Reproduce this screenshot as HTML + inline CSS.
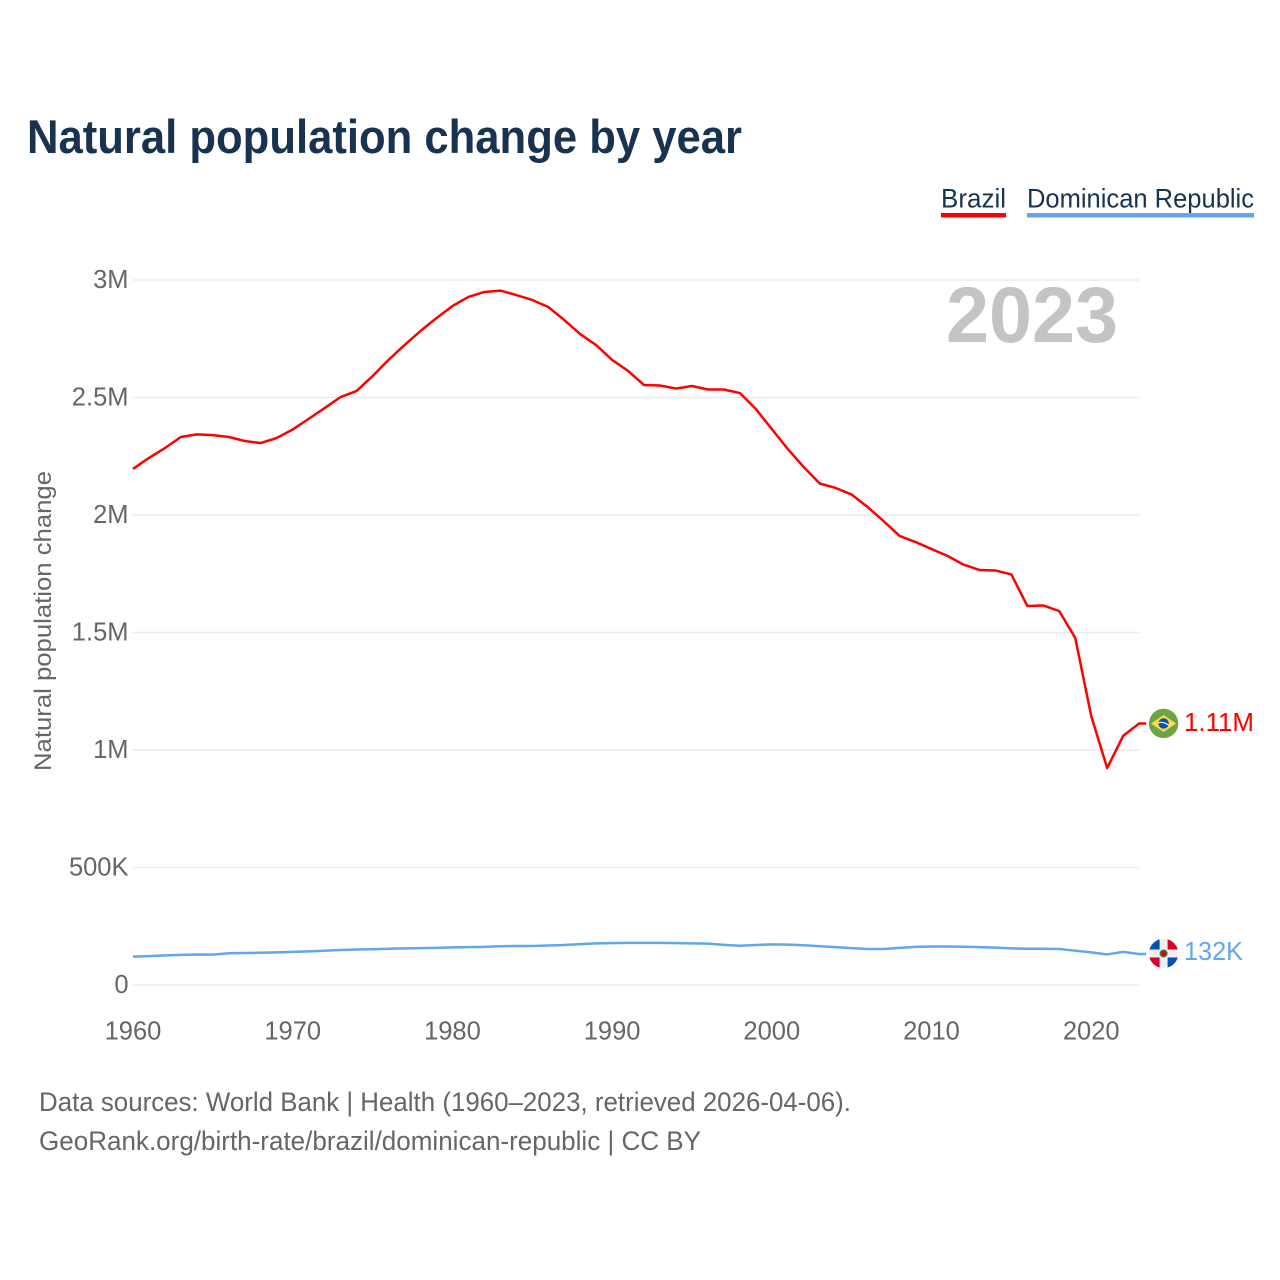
<!DOCTYPE html>
<html lang="en">
<head>
<meta charset="utf-8">
<title>Natural population change by year</title>
<style>
html,body{margin:0;padding:0;background:#fff;}
svg{display:block;font-family:"Liberation Sans",sans-serif;}
</style>
</head>
<body>
<svg id="chart" xmlns="http://www.w3.org/2000/svg" width="1280" height="1280" viewBox="0 0 1280 1280">
  <rect width="1280" height="1280" fill="#ffffff"/>
  <text x="27" y="153" font-size="47" font-weight="700" fill="#18324f" textLength="715" lengthAdjust="spacingAndGlyphs">Natural population change by year</text>

  <g>
    <text x="941" y="207.5" font-size="26.5" fill="#18324f" textLength="65" lengthAdjust="spacingAndGlyphs">Brazil</text>
    <rect x="941" y="213" width="65" height="4.5" fill="#ff0000"/>
  </g>
  <g>
    <text x="1027" y="207.5" font-size="26.5" fill="#18324f" textLength="227" lengthAdjust="spacingAndGlyphs">Dominican Republic</text>
    <rect x="1027" y="213" width="227" height="4.5" fill="#62a6ec"/>
  </g>

  <g id="grid"></g>
  <g id="yticks"></g>
  <g id="xticks"></g>

  <text transform="translate(51 621) rotate(-90)" text-anchor="middle" font-size="24.5" fill="#666666" textLength="300" lengthAdjust="spacingAndGlyphs">Natural population change</text>

  <text x="946" y="342" font-size="79" font-weight="700" fill="#c4c4c4" textLength="172" lengthAdjust="spacingAndGlyphs">2023</text>

  <g id="series"></g>

  <defs>
    <clipPath id="clip-br"><circle cx="0" cy="0" r="14.7"/></clipPath>
    <clipPath id="clip-do"><circle cx="0" cy="0" r="14.7"/></clipPath>
  </defs>
  <g id="flag-br">
    <circle r="17" fill="#ffffff"/>
    <g clip-path="url(#clip-br)">
      <rect x="-15" y="-15" width="30" height="30" fill="#6da544"/>
      <polygon points="-12.5,0 0,-8.5 12.5,0 0,8.5" fill="#ffda44"/>
      <circle r="5.2" fill="#0052b4"/>
      <path d="M-5,-0.8 Q0,-2 5,1.6" stroke="#f0f0f0" stroke-width="1.3" fill="none"/>
    </g>
  </g>
  <g id="flag-do">
    <circle r="17" fill="#ffffff"/>
    <g clip-path="url(#clip-do)">
      <rect x="-15" y="-15" width="30" height="30" fill="#f0f0f0"/>
      <rect x="-15" y="-15" width="11" height="11" fill="#0052b4"/>
      <rect x="4" y="-15" width="11" height="11" fill="#d80027"/>
      <rect x="-15" y="4" width="11" height="11" fill="#d80027"/>
      <rect x="4" y="4" width="11" height="11" fill="#0052b4"/>
      <circle r="4" fill="#496e2d"/>
      <circle r="2.4" fill="#d80027"/>
    </g>
  </g>
  <g id="endlabels"></g>

  <text x="39" y="1111" font-size="26.5" fill="#666666" textLength="812" lengthAdjust="spacingAndGlyphs">Data sources: World Bank | Health (1960–2023, retrieved 2026-04-06).</text>
  <text x="39" y="1150" font-size="26.5" fill="#666666" textLength="662" lengthAdjust="spacingAndGlyphs">GeoRank.org/birth-rate/brazil/dominican-republic | CC BY</text>
</svg>

<script>
const firstYear = 1960;
const brazilValues = [
  2196,2243,2285,2332,2343,2340,2332,2315,2306,2328,
  2364,2409,2455,2502,2528,2591,2660,2723,2783,2838,
  2889,2928,2949,2955,2936,2915,2885,2830,2770,2723,
  2660,2613,2553,2551,2538,2549,2534,2534,2519,2451,
  2366,2281,2204,2134,2115,2087,2034,1974,1911,1885,
  1855,1826,1789,1766,1764,1747,1613,1615,1591,1477,
  1145,923,1060,1113
];
const dominicanValues = [
  121,123,126,128,130,129,135,136,137,139,
  141,143,146,149,151,152,154,156,157,158,
  160,161,162,165,166,166,168,170,174,177,
  178,179,179,179,178,177,176,171,167,170,
  173,172,169,165,161,157,153,153,158,162,
  164,164,163,161,159,156,154,154,153,146,
  139,130,141,132
];
const yTickValues = [0,500,1000,1500,2000,2500,3000];
const yTickLabels = ['0','500K','1M','1.5M','2M','2.5M','3M'];
const xTickYears = [1960,1970,1980,1990,2000,2010,2020];
const brazilEndLabel = '1.11M';
const dominicanEndLabel = '132K';

const NS = 'http://www.w3.org/2000/svg';
const xScale = year => 133 + (year - 1960) * 15.97;
const yScale = value => 985 - value * 0.235;
const plotRight = xScale(2023);

function make(tag, attrs, parent, text) {
  const el = document.createElementNS(NS, tag);
  for (const key in attrs) el.setAttribute(key, attrs[key]);
  if (text !== undefined) el.textContent = text;
  parent.appendChild(el);
  return el;
}

const grid = document.getElementById('grid');
const yticks = document.getElementById('yticks');
const xticks = document.getElementById('xticks');
const series = document.getElementById('series');
const endlabels = document.getElementById('endlabels');

yTickValues.forEach((value, i) => {
  const y = yScale(value);
  const line = make('line', {x1: 133, x2: plotRight, y1: y, y2: y, stroke: '#ececec', 'stroke-width': 1.6}, grid);
  
  
  const label = make('text', {x: 128.5, y: y + 8, 'text-anchor': 'end', 'font-size': 25.5, fill: '#666666'}, yticks, yTickLabels[i]);
  
  
});

xTickYears.forEach(year => {
  const label = make('text', {x: xScale(year), y: 1039.5, 'text-anchor': 'middle', 'font-size': 25.5, fill: '#666666'}, xticks, String(year));
  
  
});

function linePoints(values) {
  const pts = values.map((v, i) => xScale(firstYear + i).toFixed(2) + ',' + yScale(v).toFixed(2));
  pts.push((plotRight + 7).toFixed(2) + ',' + yScale(values[values.length - 1]).toFixed(2));
  return pts.join(' ');
}

const dominicanLine = make('polyline', {points: linePoints(dominicanValues), fill: 'none', stroke: '#62a6ec', 'stroke-width': 2.5, 'stroke-linejoin': 'round'}, series);



const brazilLine = make('polyline', {points: linePoints(brazilValues), fill: 'none', stroke: '#ff0000', 'stroke-width': 2.5, 'stroke-linejoin': 'round'}, series);



const brazilY = yScale(brazilValues[brazilValues.length - 1]);
const dominicanY = yScale(dominicanValues[dominicanValues.length - 1]);
document.getElementById('flag-br').setAttribute('transform', 'translate(1163.6 ' + brazilY + ')');
document.getElementById('flag-do').setAttribute('transform', 'translate(1163.6 ' + (dominicanY - 0.5) + ')');

const brazilLabel = make('text', {x: 1184, y: brazilY + 7.5, 'font-size': 26, fill: '#ff0000', textLength: 70, lengthAdjust: 'spacingAndGlyphs'}, endlabels, brazilEndLabel);



const dominicanLabel = make('text', {x: 1184, y: dominicanY + 6, 'font-size': 26, fill: '#62a6ec', textLength: 59, lengthAdjust: 'spacingAndGlyphs'}, endlabels, dominicanEndLabel);


</script>
</body>
</html>
